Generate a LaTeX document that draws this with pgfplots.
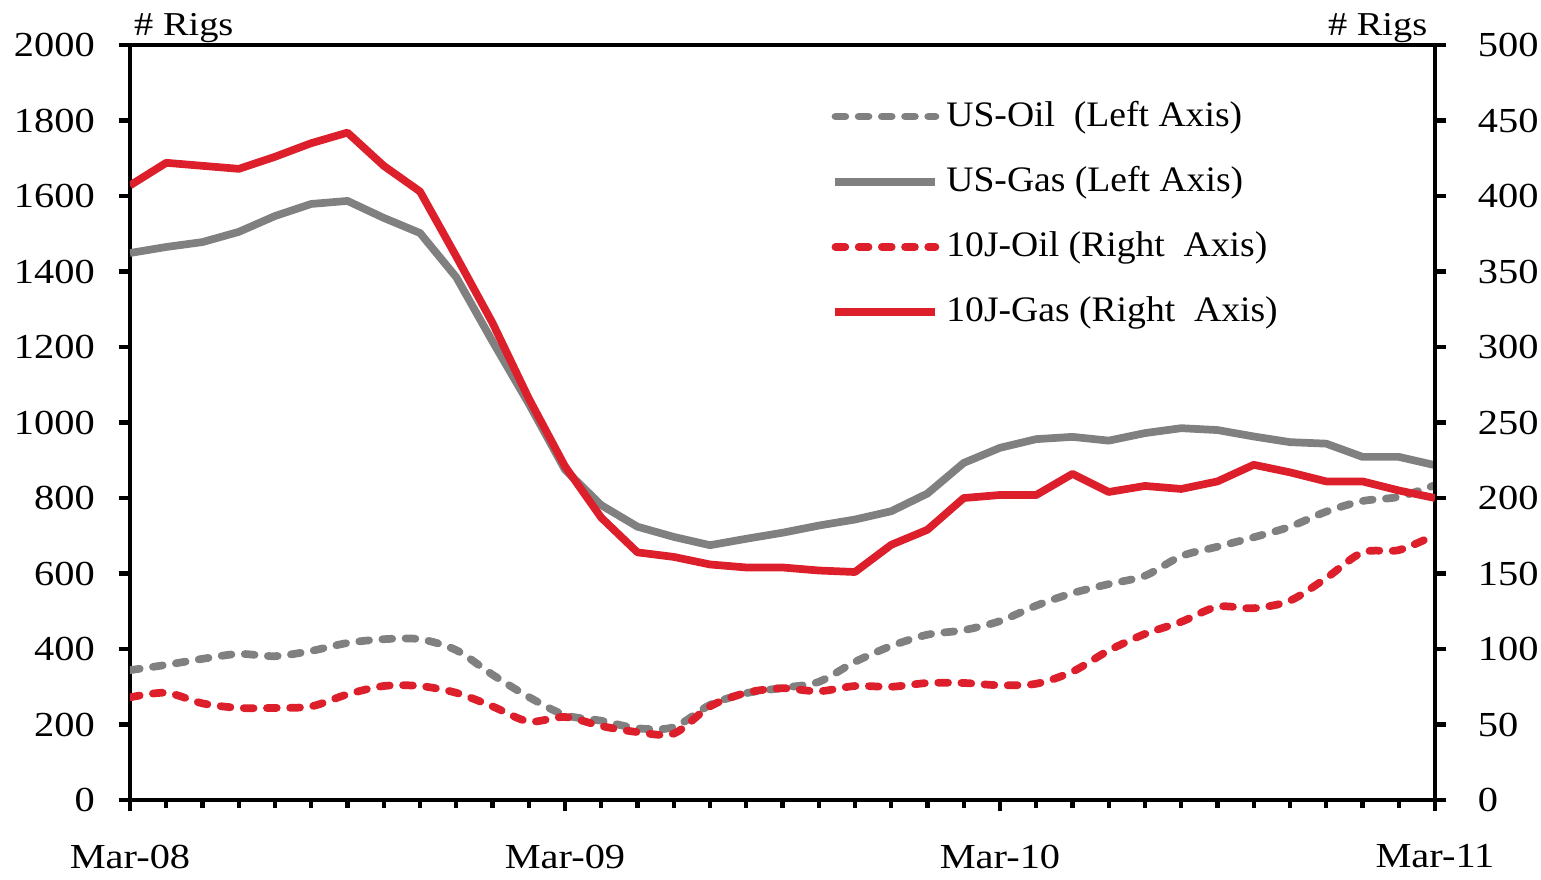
\documentclass[border=0pt]{standalone}
\usepackage{fontspec}
\setmainfont[FakeStretch=1.15]{Liberation Serif}
\newfontfamily\legfont[FakeStretch=1.05]{Liberation Serif}
\usepackage{pgfplots}
\pgfplotsset{compat=1.18}
\definecolor{rigred}{RGB}{220,31,43}
\definecolor{riggray}{RGB}{128,128,128}

\pgfplotsset{
  rigbase/.style={
    width=13.05cm, height=7.55cm, scale only axis,
    xmin=0, xmax=36, ymin=0,
    font=\fontsize{10}{12}\selectfont,
    /pgf/number format/assume math mode=true,
    /pgf/number format/set thousands separator={},
    axis line style={line width=1.4pt},
    tick style={line width=1.2pt, black},
    tick align=outside,
    major tick length=3.2pt, minor tick length=2.3pt,
  },
  oilline/.style={line width=2.2pt, dash pattern=on 2.8pt off 3.8pt, line cap=round, smooth},
  gasline/.style={line width=2.2pt, line join=round},
}

\begin{document}
\begin{tikzpicture}
\begin{axis}[
    rigbase, name=main,
    ymax=2000, ytick={0,200,...,2000}, ytick pos=left,
    xtick pos=bottom,
    xtick={0,12,24,36},
    xticklabels={Mar-08,Mar-09,Mar-10,Mar-11},
    minor x tick num=11,
    xticklabel style={yshift=-6pt},
    yticklabel style={xshift=-3.3pt},
]
% US oil rigs (left axis)
\addplot[riggray, oilline] coordinates {
  (0,344) (1,358) (2,374) (3,387) (4,381) (5,395) (6,416) (7,426) (8,426)
  (9,397) (10,332) (11,273) (12,225) (13,210) (14,190) (15,193) (16,252)
  (17,283) (18,297) (19,313) (20,366) (21,408) (22,438) (23,450) (24,474)
  (25,515) (26,548) (27,572) (28,594) (29,646) (30,671) (31,696) (32,724)
  (33,764) (34,792) (35,803) (36,834)
};
% US gas rigs (left axis)
\addplot[riggray, gasline] coordinates {
  (0,1449) (1,1465) (2,1478) (3,1505) (4,1547) (5,1579) (6,1587) (7,1542)
  (8,1502) (9,1385) (10,1215) (11,1050) (12,875) (13,781) (14,724) (15,697)
  (16,675) (17,692) (18,708) (19,727) (20,743) (21,765) (22,812) (23,893)
  (24,933) (25,956) (26,962) (27,952) (28,972) (29,985) (30,980) (31,963)
  (32,948) (33,944) (34,909) (35,909) (36,887)
};
\end{axis}

\begin{axis}[
    rigbase,
    ymax=500, ytick={0,50,...,500},
    axis y line*=right, axis x line=none,
    yticklabel style={xshift=5.5pt},
    legend cell align=left,
    legend image code/.code={\draw[#1] (0cm,0cm) -- (1.0cm,0cm);},
    legend style={at={(0.529,0.945)}, anchor=north west, draw=none, fill=none,
      row sep=5.9pt, font=\legfont\fontsize{10.2}{12}\selectfont},
]
\addlegendimage{riggray, oilline}
\addlegendimage{riggray, gasline}
% 10J oil rigs (right axis)
\addplot[rigred, oilline] coordinates {
  (0,68) (1,71) (2,64) (3,61) (4,61) (5,62) (6,70) (7,75.5) (8,75.5)
  (9,71) (10,62) (11,52) (12,55) (13,49) (14,45) (15,44) (16,62) (17,71)
  (18,74) (19,72) (20,75.5) (21,75) (22,77.5) (23,77.5) (24,76) (25,77)
  (26,85) (27,99) (28,110) (29,118) (30,128) (31,127) (32,132) (33,147)
  (34,164) (35,165.5) (36,175.5)
};
% 10J gas rigs (right axis)
\addplot[rigred, gasline] coordinates {
  (0,407) (1,422) (2,420) (3,418) (4,426) (5,435) (6,442) (7,420) (8,403)
  (9,360) (10,316) (11,266) (12,221) (13,187) (14,164) (15,161) (16,156)
  (17,154) (18,154) (19,152) (20,151) (21,169) (22,179) (23,200) (24,202)
  (25,202) (26,216) (27,204) (28,208) (29,206) (30,211) (31,222) (32,217)
  (33,211) (34,211) (35,205) (36,200)
};
\legend{US-Oil\ \ (Left Axis), US-Gas (Left Axis), 10J-Oil (Right\ \ Axis), 10J-Gas (Right\ \ Axis)}
\end{axis}
\node[anchor=south west, inner sep=0pt, font=\fontsize{9.5}{11}\selectfont] at ([xshift=1pt,yshift=0.4pt]main.north west) {\# Rigs};
\node[anchor=south east, inner sep=0pt, font=\fontsize{9.5}{11}\selectfont] at ([xshift=-2pt,yshift=0.4pt]main.north east) {\# Rigs};
\pgfresetboundingbox
\path[use as bounding box] (main.south west) ++(-1.30cm,-0.79cm) rectangle ++(15.41cm,8.79cm);
\end{tikzpicture}
\end{document}
